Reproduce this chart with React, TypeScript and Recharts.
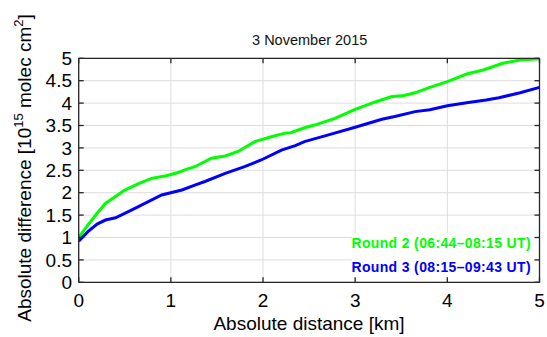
import React from 'react';
import { LineChart, Line, XAxis, YAxis, CartesianGrid } from 'recharts';

// Distance along the transect [km] and absolute difference [1e15 molec cm^-2]
const round2Distance = [0, 0.1, 0.2, 0.29, 0.5, 0.65, 0.79, 0.95, 1.08, 1.15, 1.26, 1.44, 1.59, 1.73, 1.91, 2.09, 2.24, 2.3, 2.45, 2.56, 2.78, 3.0, 3.21, 3.39, 3.53, 3.65, 3.81, 4.0, 4.21, 4.39, 4.6, 4.79, 5.0];
const round2Values = [1.0, 1.28, 1.54, 1.76, 2.06, 2.2, 2.32, 2.38, 2.45, 2.51, 2.58, 2.77, 2.82, 2.92, 3.14, 3.25, 3.33, 3.34, 3.45, 3.51, 3.66, 3.86, 4.02, 4.14, 4.17, 4.23, 4.35, 4.48, 4.65, 4.74, 4.89, 4.96, 4.99];

const round3Distance = [0, 0.1, 0.2, 0.29, 0.4, 0.61, 0.9, 1.12, 1.26, 1.37, 1.59, 1.8, 1.98, 2.2, 2.35, 2.45, 2.71, 3.0, 3.29, 3.43, 3.65, 3.81, 4.0, 4.21, 4.42, 4.56, 4.79, 5.0];
const round3Values = [0.92, 1.13, 1.3, 1.39, 1.44, 1.65, 1.95, 2.06, 2.17, 2.25, 2.43, 2.58, 2.73, 2.95, 3.05, 3.14, 3.29, 3.46, 3.64, 3.7, 3.81, 3.85, 3.94, 4.01, 4.07, 4.12, 4.23, 4.35];

const seriesNames = ['Round 2 (06:44\u201308:15 UT)', 'Round 3 (08:15\u201309:43 UT)'];
const seriesColors = ['#00ff00', '#0000ff'];

const xTicks = [0, 1, 2, 3, 4, 5];
const yTicks = [0, 0.5, 1, 1.5, 2, 2.5, 3, 3.5, 4, 4.5, 5];

const titleText = '3 November 2015';
const xLabelText = 'Absolute distance [km]';

const round2Data = round2Distance.map((d, i) => ({ d, v: round2Values[i] }));
const round3Data = round3Distance.map((d, i) => ({ d, v: round3Values[i] }));

const FONT = '"Liberation Sans", Arial, Helvetica, sans-serif';
const AXIS = '#262626';

export default function App() {
  const tickStyle = { fontSize: 19, fill: '#000', fontFamily: FONT };
  return (
    <div style={{ position: 'absolute', left: 0, top: 0, width: 547, height: 337, background: '#fff', fontFamily: FONT }}>
      <LineChart
        width={547}
        height={337}
        margin={{ top: 57.3, right: 6.5, bottom: 24.7, left: 18.7 }}
      >
        <CartesianGrid stroke="#dedede" strokeWidth={1} />
        <XAxis
          xAxisId={0}
          dataKey="d"
          type="number"
          domain={[0, 5]}
          ticks={xTicks}
          interval={0}
          allowDataOverflow
          height={30}
          axisLine={{ stroke: AXIS, strokeWidth: 1.3 }}
          tickLine={{ stroke: AXIS, strokeWidth: 1.3 }}
          tickSize={-5}
          tickMargin={15.9}
          tick={tickStyle}
        />
        <XAxis
          xAxisId="top"
          orientation="top"
          dataKey="d"
          type="number"
          domain={[0, 5]}
          ticks={xTicks}
          interval={0}
          allowDataOverflow
          height={1}
          axisLine={{ stroke: AXIS, strokeWidth: 1.3 }}
          tickLine={{ stroke: AXIS, strokeWidth: 1.3 }}
          tickSize={-5}
          tickFormatter={() => ''}
        />
        <YAxis
          yAxisId={0}
          type="number"
          domain={[0, 5]}
          ticks={yTicks}
          interval={0}
          allowDataOverflow
          width={60}
          axisLine={{ stroke: AXIS, strokeWidth: 1.3 }}
          tickLine={{ stroke: AXIS, strokeWidth: 1.3 }}
          tickSize={-5}
          tickMargin={11.7}
          tick={tickStyle}
        />
        <YAxis
          yAxisId="right"
          orientation="right"
          type="number"
          domain={[0, 5]}
          ticks={yTicks}
          interval={0}
          allowDataOverflow
          width={1}
          axisLine={{ stroke: AXIS, strokeWidth: 1.3 }}
          tickLine={{ stroke: AXIS, strokeWidth: 1.3 }}
          tickSize={-5}
          tickFormatter={() => ''}
        />
        <Line
          data={round2Data}
          dataKey="v"
          name={seriesNames[0]}
          type="linear"
          stroke={seriesColors[0]}
          strokeWidth={3}
          dot={false}
          isAnimationActive={false}
        />
        <Line
          data={round3Data}
          dataKey="v"
          name={seriesNames[1]}
          type="linear"
          stroke={seriesColors[1]}
          strokeWidth={3}
          dot={false}
          isAnimationActive={false}
        />
      </LineChart>

      {/* title */}
      <div style={{ position: 'absolute', left: 159.7, top: 33, width: 300, textAlign: 'center', fontSize: 14.5, lineHeight: '14.5px', color: '#111', whiteSpace: 'nowrap' }}>
        {titleText}
      </div>

      {/* x axis label */}
      <div style={{ position: 'absolute', left: 109, top: 313.9, width: 400, textAlign: 'center', fontSize: 19, lineHeight: '19px', color: '#000', whiteSpace: 'nowrap' }}>
        {xLabelText}
      </div>

      {/* y axis label, rotated */}
      <div style={{ position: 'absolute', left: 25 - 180, top: 168 - 11, width: 360, height: 22, lineHeight: '22px', textAlign: 'center', fontSize: 19, color: '#000', whiteSpace: 'nowrap', transform: 'rotate(-90deg)', transformOrigin: '50% 50%' }}>
        Absolute difference [10<sup style={{ fontSize: 13, verticalAlign: 'baseline', position: 'relative', top: -8 }}>15</sup> molec cm<sup style={{ fontSize: 13, verticalAlign: 'baseline', position: 'relative', top: -8 }}>2</sup>]
      </div>

      {/* legend */}
      <div style={{ position: 'absolute', left: 352, top: 233, width: 182, height: 44, background: '#fff' }}>
        {seriesNames.map((n, i) => (
          <div key={n} style={{ position: 'absolute', right: 3, top: 2 + i * 23.5, fontSize: 14, lineHeight: '16px', letterSpacing: 0.35, fontWeight: 'bold', color: seriesColors[i], whiteSpace: 'nowrap' }}>
            {n}
          </div>
        ))}
      </div>
    </div>
  );
}
